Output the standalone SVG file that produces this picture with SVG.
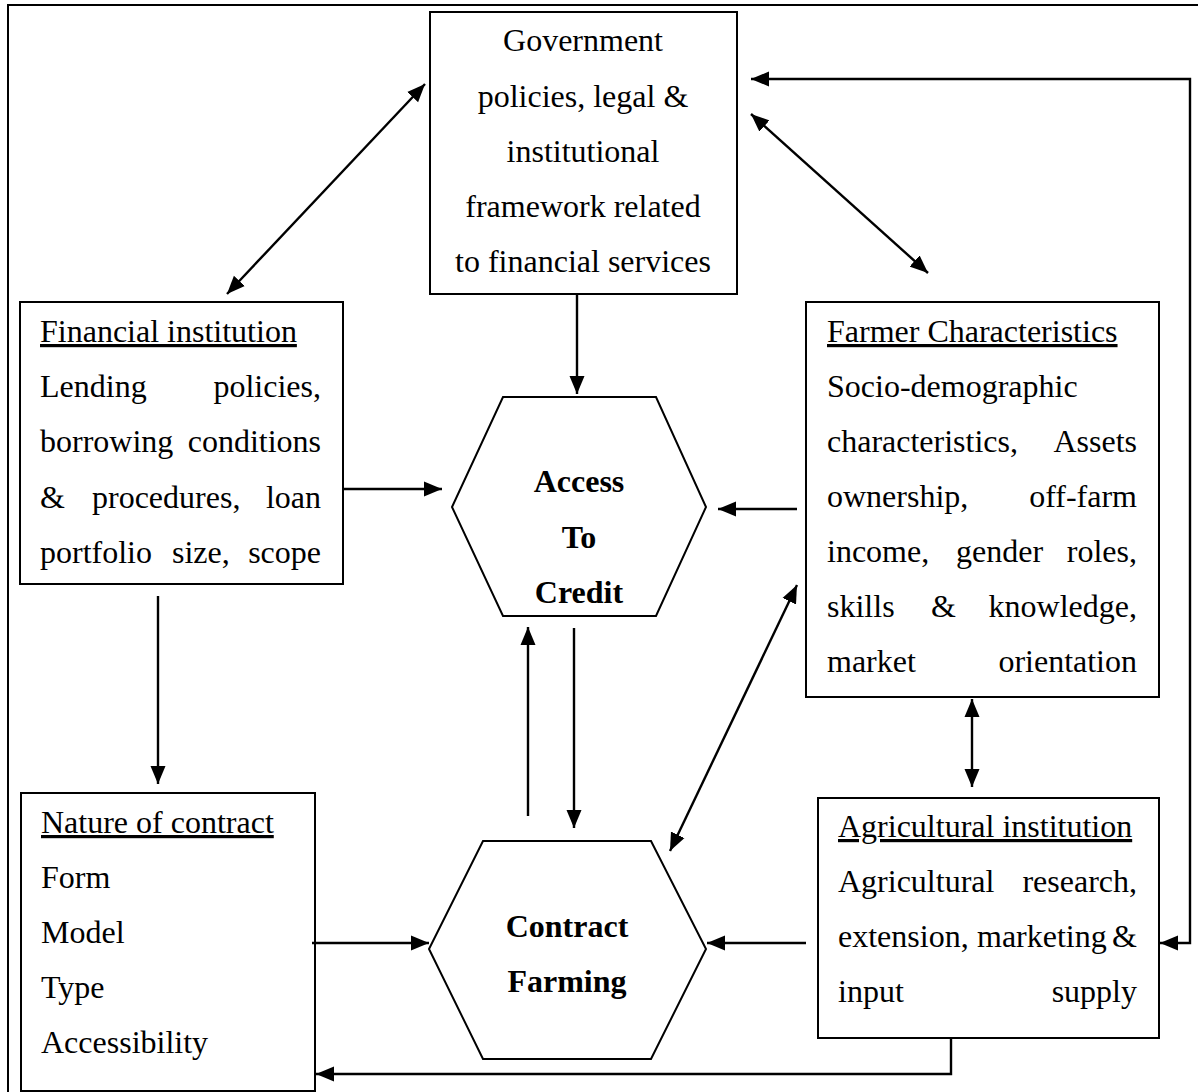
<svg xmlns="http://www.w3.org/2000/svg" width="1198" height="1092" viewBox="0 0 1198 1092">
<style>
.box{fill:#fff;stroke:#000;stroke-width:2}
.hex{fill:#fff;stroke:#000;stroke-width:2}
.t{font-family:"Liberation Serif","Times New Roman",serif;font-size:32px;fill:#000}
.b{font-weight:bold}
.c{text-anchor:middle}
.e{text-anchor:end}
.u{text-decoration:underline}
.con line,.con polyline{stroke:#000;stroke-width:2.4;fill:none}
.one{marker-end:url(#ah)}
.two{marker-start:url(#ah);marker-end:url(#ah)}
</style>
<defs>
<marker id="ah" markerUnits="userSpaceOnUse" markerWidth="20" markerHeight="16" refX="18" refY="8" orient="auto-start-reverse" viewBox="0 0 20 16">
<path d="M0,0.5 L18,8 L0,15.5 Z" fill="#000"/>
</marker>
</defs>
<rect width="1198" height="1092" fill="#fff"/>
<path d="M8,1095 V5 H1200" fill="none" stroke="#000" stroke-width="2"/>

<g id="government">
<rect class="box" x="430" y="12" width="307" height="282"/>
<text class="t c" x="583" y="51">Government</text>
<text class="t c" x="583" y="107">policies, legal &amp;</text>
<text class="t c" x="583" y="162">institutional</text>
<text class="t c" x="583" y="217">framework related</text>
<text class="t c" x="583" y="272">to financial services</text>
</g>

<g id="financial-institution">
<rect class="box" x="20" y="302" width="323" height="282"/>
<text class="t u" x="40" y="342">Financial institution</text>
<text class="t" y="397"><tspan x="40">Lending</tspan><tspan class="e" x="321">policies,</tspan></text>
<text class="t" y="452"><tspan x="40">borrowing</tspan><tspan class="e" x="321">conditions</tspan></text>
<text class="t" y="508"><tspan x="40">&amp;</tspan><tspan x="92">procedures,</tspan><tspan class="e" x="321">loan</tspan></text>
<text class="t" y="563"><tspan x="40">portfolio</tspan><tspan x="172">size,</tspan><tspan class="e" x="321">scope</tspan></text>
</g>

<g id="farmer-characteristics">
<rect class="box" x="806" y="302" width="353" height="395"/>
<text class="t u" x="827" y="342">Farmer Characteristics</text>
<text class="t" x="827" y="397">Socio-demographic</text>
<text class="t" y="452"><tspan x="827">characteristics,</tspan><tspan class="e" x="1137">Assets</tspan></text>
<text class="t" y="507"><tspan x="827">ownership,</tspan><tspan class="e" x="1137">off-farm</tspan></text>
<text class="t" y="562"><tspan x="827">income,</tspan><tspan x="956">gender</tspan><tspan class="e" x="1137">roles,</tspan></text>
<text class="t" y="617"><tspan x="827">skills</tspan><tspan x="931">&amp;</tspan><tspan class="e" x="1137">knowledge,</tspan></text>
<text class="t" y="672"><tspan x="827">market</tspan><tspan class="e" x="1137">orientation</tspan></text>
</g>

<g id="access-to-credit">
<polygon class="hex" points="503,397 656,397 706,507 656,616 503,616 452,507"/>
<text class="t b c" x="579" y="492">Access</text>
<text class="t b c" x="579" y="548">To</text>
<text class="t b c" x="579" y="603">Credit</text>
</g>

<g id="contract-farming">
<polygon class="hex" points="483,841 651,841 706,949 651,1059 483,1059 429,949"/>
<text class="t b c" x="567" y="937">Contract</text>
<text class="t b c" x="567" y="992">Farming</text>
</g>

<g id="nature-of-contract">
<rect class="box" x="21" y="793" width="294" height="298"/>
<text class="t u" x="41" y="833">Nature of contract</text>
<text class="t" x="41" y="888">Form</text>
<text class="t" x="41" y="943">Model</text>
<text class="t" x="41" y="998">Type</text>
<text class="t" x="41" y="1053">Accessibility</text>
</g>

<g id="agricultural-institution">
<rect class="box" x="818" y="798" width="341" height="240"/>
<text class="t u" x="838" y="837">Agricultural institution</text>
<text class="t" y="892"><tspan x="838">Agricultural</tspan><tspan class="e" x="1137">research,</tspan></text>
<text class="t" y="947"><tspan x="838">extension,</tspan><tspan x="977">marketing</tspan><tspan class="e" x="1137">&amp;</tspan></text>
<text class="t" y="1002"><tspan x="838">input</tspan><tspan class="e" x="1137">supply</tspan></text>
</g>

<g id="connectors" class="con">
<line class="two" x1="227" y1="294" x2="425" y2="84"/>
<line class="two" x1="751" y1="114" x2="928" y2="273"/>
<polyline class="two" points="1160,943 1190,943 1190,79 751,79"/>
<line class="one" x1="577" y1="294" x2="577" y2="394"/>
<line class="one" x1="343" y1="489" x2="442" y2="489"/>
<line class="one" x1="797" y1="509" x2="718" y2="509"/>
<line class="two" x1="797" y1="585" x2="670" y2="851"/>
<line class="one" x1="574" y1="628" x2="574" y2="828"/>
<line class="one" x1="528" y1="816" x2="528" y2="627"/>
<line class="one" x1="158" y1="596" x2="158" y2="784"/>
<line class="one" x1="312" y1="943" x2="429" y2="943"/>
<line class="one" x1="806" y1="943" x2="707" y2="943"/>
<line class="two" x1="972" y1="699" x2="972" y2="787"/>
<polyline class="one" points="951,1038 951,1074 316,1074"/>
</g>
</svg>
